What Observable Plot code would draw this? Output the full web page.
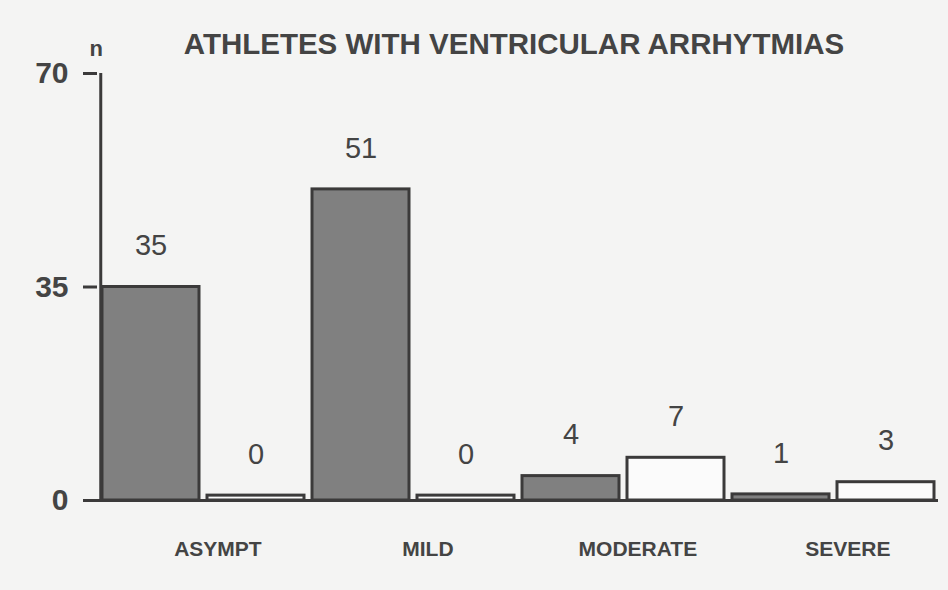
<!DOCTYPE html>
<html>
<head>
<meta charset="utf-8">
<script src="https://cdn.jsdelivr.net/npm/d3@7"></script>
<script src="https://cdn.jsdelivr.net/npm/@observablehq/plot@0.6"></script>
<style>
  html, body { margin: 0; padding: 0; background: #f4f4f3; }
  #chart svg { display: block; }
</style>
</head>
<body>
<div id="chart"></div>
<script>
const titleText = "ATHLETES WITH VENTRICULAR ARRHYTMIAS";
const yLabel = "n";
const groups = ["ASYMPT", "MILD", "MODERATE", "SEVERE"];
const seriesNames = ["filled", "open"];
const filledValues = [35, 51, 4, 1];
const openValues = [0, 0, 7, 3];
const yTicks = [0, 35, 70];

const data = groups.flatMap((g, i) => [
  {group: g, series: "filled", key: g + "-filled", value: filledValues[i]},
  {group: g, series: "open", key: g + "-open", value: openValues[i]}
]);
const keys = data.map(d => d.key);

const W = 948, H = 590;
const mL = 97, mR = 10, mT = 73, mB = 90;
const pIn = 0.08, pOut = 0.015;
const step = (W - mL - mR) / (keys.length - pIn + 2 * pOut);
const bw = step * (1 - pIn);
const ink = "#3b3a3a";
const font = "'Liberation Sans', Arial, sans-serif";

const chart = Plot.plot({
  width: W,
  height: H,
  marginLeft: mL,
  marginRight: mR,
  marginTop: mT,
  marginBottom: mB,
  style: {background: "#f4f4f3", fontFamily: font, color: ink},
  x: {domain: keys, paddingInner: pIn, paddingOuter: pOut, axis: null},
  y: {domain: [0, 70], axis: null},
  color: {domain: seriesNames, range: ["#808080", "#fbfbfb"]},
  marks: [
    Plot.barY(data, {
      x: "key",
      y1: 0,
      y2: d => Math.max(d.value, 0.8),
      fill: "series",
      stroke: ink,
      strokeWidth: 3
    }),
    Plot.text(data, {
      x: "key",
      y: d => Math.max(d.value, 0.8),
      text: d => String(d.value),
      dy: -41,
      lineAnchor: "middle",
      fontSize: 29,
      fill: "#444"
    }),
    Plot.ruleY([0], {stroke: ink, strokeWidth: 3}),
    Plot.ruleX([keys[0]], {
      y1: 0,
      y2: 70,
      dx: -(pOut * step + bw / 2),
      stroke: ink,
      strokeWidth: 3
    }),
    Plot.axisY({
      ticks: yTicks,
      tickSize: 14,
      tickPadding: 15,
      fontSize: 30,
      fontWeight: "bold",
      stroke: ink,
      strokeWidth: 3,
      fill: "#444",
      label: null
    }),
    Plot.text(groups, {
      x: g => g + "-filled",
      text: g => g,
      frameAnchor: "bottom",
      dx: step / 2 + 14,
      dy: 49,
      lineAnchor: "middle",
      fontSize: 21,
      fontWeight: "bold",
      fill: "#444"
    }),
    Plot.text([titleText], {
      text: d => d,
      frameAnchor: "top",
      dx: -4,
      dy: -29,
      lineAnchor: "middle",
      fontSize: 29.5,
      fontWeight: "bold",
      fill: "#444"
    }),
    Plot.text([yLabel], {
      text: d => d,
      frameAnchor: "top-left",
      dx: -8,
      dy: -25,
      lineAnchor: "middle",
      fontSize: 22,
      fontWeight: "bold",
      fill: "#444"
    })
  ]
});
document.getElementById("chart").appendChild(chart);
</script>
</body>
</html>
